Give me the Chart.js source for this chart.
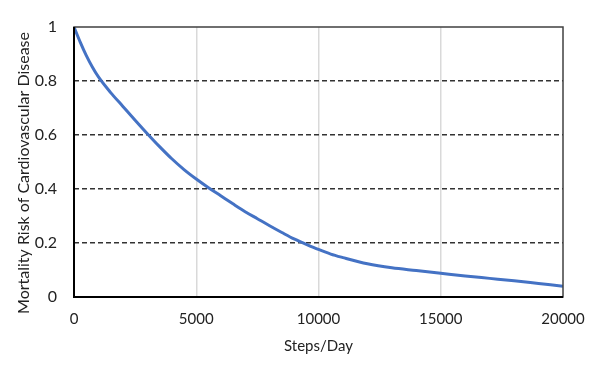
<!DOCTYPE html>
<html>
<head>
<meta charset="utf-8">
<script src="https://cdn.jsdelivr.net/npm/chart.js@4"></script>
<style>
html,body{margin:0;padding:0;background:#fff;}
#wrap{width:595px;height:367px;}
</style>
</head>
<body>
<div id="wrap"><canvas id="c" width="595" height="367"></canvas></div>
<script>
const steps = [0, 250, 500, 750, 1000, 1500, 2000, 2500, 3000, 3500, 4000, 4500, 5000, 5500, 6000, 6500, 7000, 7500, 8000, 8500, 9000, 9500, 10000, 10500, 11000, 12000, 13000, 14000, 15000, 16000, 17000, 18000, 19000, 20000];
const risk = [1.0, 0.945, 0.895, 0.852, 0.815, 0.757, 0.706, 0.655, 0.605, 0.557, 0.512, 0.472, 0.437, 0.405, 0.375, 0.345, 0.316, 0.29, 0.264, 0.239, 0.215, 0.195, 0.176, 0.159, 0.146, 0.123, 0.108, 0.098, 0.088, 0.078, 0.069, 0.06, 0.05, 0.04];
const xTicks = [0, 5000, 10000, 15000, 20000];
const xTickLabels = ['0', '5000', '10000', '15000', '20000'];
const yTicks = [0, 0.2, 0.4, 0.6, 0.8, 1];
const yTickLabels = ['0', '0.2', '0.4', '0.6', '0.8', '1'];
const xTitle = 'Steps/Day';
const yTitle = 'Mortality Risk of Cardiovascular Disease';

const boxPlugin = {
  id: 'box',
  afterDatasetsDraw(chart) {
    const a = chart.chartArea, ctx = chart.ctx;
    ctx.save();
    ctx.strokeStyle = '#404040';
    ctx.lineWidth = 1.5;
    ctx.setLineDash([]);
    ctx.strokeRect(a.left, a.top, a.right - a.left, a.bottom - a.top);
    ctx.strokeStyle = '#000';
    ctx.lineWidth = 2;
    ctx.beginPath();
    ctx.moveTo(a.left, a.top); ctx.lineTo(a.left, a.bottom); ctx.lineTo(a.right, a.bottom);
    ctx.stroke();
    ctx.restore();
  }
};

const yTitlePlugin = {
  id: 'yTitle',
  afterDraw(chart) {
    const a = chart.chartArea, ctx = chart.ctx;
    ctx.save();
    ctx.translate(24, (a.top + a.bottom) / 2 + 11);
    ctx.rotate(-Math.PI / 2);
    ctx.font = '16px Lato';
    ctx.fillStyle = '#222';
    ctx.textAlign = 'center';
    ctx.textBaseline = 'middle';
    ctx.fillText(yTitle, 0, 0);
    ctx.restore();
  }
};

new Chart(document.getElementById('c'), {
  type: 'line',
  data: {
    datasets: [{
      data: steps.map((s, i) => ({x: s, y: risk[i]})),
      borderColor: '#4472C4',
      borderWidth: 3,
      pointRadius: 0,
      fill: false,
      cubicInterpolationMode: 'monotone'
    }]
  },
  options: {
    responsive: false,
    animation: false,
    layout: {padding: {top: 27, right: 32, left: 0, bottom: 12}},
    plugins: {legend: {display: false}, tooltip: {enabled: false}},
    scales: {
      x: {
        type: 'linear', min: 0, max: 20000,
        afterBuildTicks: s => { s.ticks = xTicks.map(v => ({value: v})); },
        afterFit: s => { s.height = 58; },
        grid: {
          drawTicks: true,
          tickLength: 13,
          tickColor: 'rgba(0,0,0,0)',
          lineWidth: 1.5,
          color: c => (c.tick && (c.tick.value === 0 || c.tick.value === 20000)) ? 'rgba(0,0,0,0)' : '#d9d9d9'
        },
        border: {display: false},
        ticks: {
          color: '#222', font: {family: 'Lato', size: 15}, padding: 0, maxRotation: 0,
          callback: v => xTickLabels[xTicks.indexOf(v)]
        },
        title: {display: true, text: xTitle, color: '#222', font: {family: 'Lato', size: 15}, padding: {top: 0, bottom: 0}}
      },
      y: {
        min: 0, max: 1,
        afterBuildTicks: s => { s.ticks = yTicks.map(v => ({value: v})); },
        afterFit: s => { s.width = 74; },
        grid: {
          drawTicks: false,
          lineWidth: 1.5,
          color: c => (c.tick && (c.tick.value === 0 || c.tick.value === 1)) ? 'rgba(0,0,0,0)' : '#333'
        },
        border: {display: false, dash: [5, 3]},
        ticks: {
          color: '#222', font: {family: 'Lato', size: 16}, padding: 17,
          callback: v => yTickLabels[yTicks.indexOf(v)]
        },
        title: {display: false, text: yTitle}
      }
    }
  },
  plugins: [boxPlugin, yTitlePlugin]
});
</script>
</body>
</html>
